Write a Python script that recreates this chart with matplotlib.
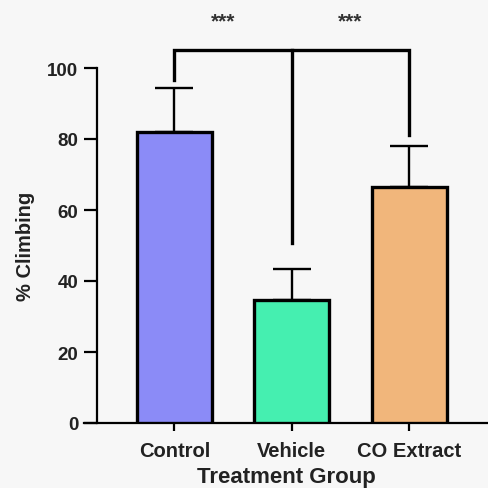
import matplotlib
matplotlib.use("Agg")
import matplotlib.pyplot as plt

categories = ["Control", "Vehicle", "CO Extract"]
means = [82.0, 34.7, 66.4]
errors = [12.4, 8.7, 11.7]
colors = ["#8B8BF7", "#45EFB0", "#F1B67B"]
yticks = [0, 20, 40, 60, 80, 100]
bracket_top = 105.0
bracket_ends = [96.6, 50.7, 81.1]
stars = ["***", "***"]

plt.rcParams['font.family'] = ['Liberation Sans', 'DejaVu Sans']
bg = "#F7F7F7"
fig = plt.figure(figsize=(4.88, 4.89), dpi=100, facecolor=bg)
ax = fig.add_axes([84/488, 65/489, 404/488, 355/489])
ax.set_facecolor(bg)

x = list(range(len(categories)))
ax.bar(x, means, width=0.64, color=colors, edgecolor="black", linewidth=2.4, zorder=3)
ax.errorbar(x, means, yerr=[[0]*3, errors], fmt="none", ecolor="black",
            elinewidth=1.7, capsize=13.5, capthick=1.7, zorder=2)

ax.set_xlim(-0.77, 2.672)
ax.set_ylim(0, 100)
ax.spines['left'].set_position(('data', -0.66))
ax.spines['right'].set_visible(False)
ax.spines['top'].set_visible(False)
ax.spines['left'].set_linewidth(1.6)
ax.spines['bottom'].set_linewidth(1.6)
ax.set_yticks(yticks)
ax.set_xticks(x)
ax.set_xticklabels(categories, fontsize=14.5, fontweight='bold', color='#222222')
ax.tick_params(axis='y', length=9.5, width=1.6, labelsize=13.5, pad=4, labelcolor='#222222')
ax.tick_params(axis='x', length=6, width=1.6, pad=7)
for lab in ax.get_yticklabels():
    lab.set_fontweight('bold')
ax.set_ylabel("% Climbing", fontsize=14.5, fontweight='bold', labelpad=9, color='#222222')
ax.set_xlabel("Treatment Group", fontsize=16, fontweight='bold', labelpad=4, color='#222222')

# significance bracket
lw = 2.4
ax.plot([x[0], x[0], x[2], x[2]], [bracket_ends[0], bracket_top, bracket_top, bracket_ends[2]],
        color='black', lw=lw, clip_on=False, solid_joinstyle='miter', zorder=4)
ax.plot([x[1], x[1]], [bracket_top, bracket_ends[1]], color='black', lw=lw, clip_on=False, zorder=4)
ax.text(0.415, 113.3, stars[0], ha='center', va='center', fontsize=15, fontweight='bold',
        color='#333333', clip_on=False)
ax.text(1.5, 113.3, stars[1], ha='center', va='center', fontsize=15, fontweight='bold',
        color='#333333', clip_on=False)

fig.savefig("out.png", dpi=100, facecolor=bg)
